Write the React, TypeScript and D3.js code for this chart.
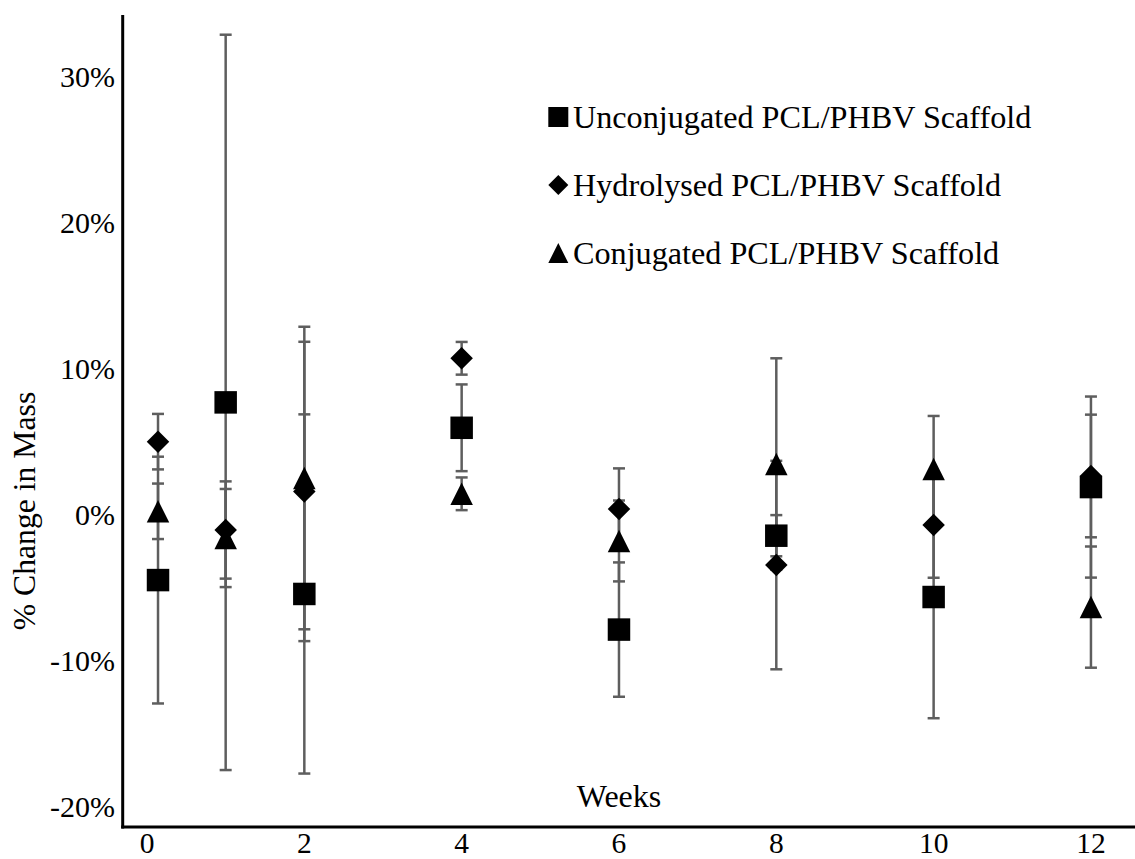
import React from "react";
import * as d3 from "d3";

const weeks = [0.14, 1, 2, 4, 6, 8, 10, 12];
const unconjugated = [-4.25, 7.92, -5.2, 6.18, -7.64, -1.21, -5.41, 2.12];
const unconjugatedErr = [8.45, 25.18, 12.3, 2.97, 4.6, 1.41, 8.3, 6.2];
const hydrolysed = [5.23, -0.82, 1.82, 10.94, 0.62, -3.22, -0.48, 2.88];
const hydrolysedErr = [1.9, 3.33, 10.25, 1.12, 2.78, 7.14, 3.61, 4.2];
const conjugated = [0.46, -1.37, 2.74, 1.66, -1.57, 3.7, 3.35, -6.1];
const conjugatedErr = [1.9, 3.36, 10.36, 1.12, 2.77, 7.24, 3.64, 4.15];

const xTicks = [0, 2, 4, 6, 8, 10, 12];
const yTicks = [-20, -10, 0, 10, 20, 30];

const seriesNames = [
  "Unconjugated PCL/PHBV Scaffold",
  "Hydrolysed PCL/PHBV Scaffold",
  "Conjugated PCL/PHBV Scaffold",
];

const W = 1135;
const H = 859;
const FONT = "Liberation Serif, Times New Roman, serif";

function markerPath(kind: string, size: number) {
  const h = size / 2;
  if (kind === "square") return `M${-h},${-h}H${h}V${h}H${-h}Z`;
  if (kind === "diamond") return `M0,${-h}L${h},0L0,${h}L${-h},0Z`;
  return `M0,${-h}L${h},${h}L${-h},${h}Z`;
}

export default function App() {
  const x = d3.scaleLinear().domain([-0.309, 12.56]).range([122.7, 1135]);
  const y = d3.scaleLinear().domain([-21.16, 34.45]).range([827, 15]);

  const series = [
    { kind: "square", vals: unconjugated, errs: unconjugatedErr },
    { kind: "diamond", vals: hydrolysed, errs: hydrolysedErr },
    { kind: "triangle", vals: conjugated, errs: conjugatedErr },
  ];

  const capW = 12;
  const errColor = "#5e5e5e";
  const ts = { fontFamily: FONT };

  return (
    <svg width={W} height={H} style={{ position: "absolute", left: 0, top: 0, background: "#fff", fontFamily: FONT }}>
      <rect x={0} y={0} width={W} height={H} fill="#fff" />
      {series.map((s, si) => (
        <g key={"e" + si} stroke={errColor} strokeWidth={2.5}>
          {s.vals.map((v, i) => {
            const cx = x(weeks[i]);
            const y1 = y(v + s.errs[i]);
            const y2 = y(v - s.errs[i]);
            return (
              <g key={i}>
                <line x1={cx} x2={cx} y1={y1} y2={y2} />
                <line x1={cx - capW / 2} x2={cx + capW / 2} y1={y1} y2={y1} />
                <line x1={cx - capW / 2} x2={cx + capW / 2} y1={y2} y2={y2} />
              </g>
            );
          })}
        </g>
      ))}
      {series.map((s, si) => (
        <g key={"m" + si} fill="#000">
          {s.vals.map((v, i) => (
            <path key={i} d={markerPath(s.kind, 22.5)}
              transform={`translate(${x(weeks[i])},${y(v)})`} />
          ))}
        </g>
      ))}
      <line x1={122.7} x2={122.7} y1={15} y2={828.5} stroke="#000" strokeWidth={3} />
      <line x1={121.2} x2={1135} y1={827} y2={827} stroke="#000" strokeWidth={3} />
      {yTicks.map((t) => (
        <text key={t} x={115} y={y(t) + 7.3} textAnchor="end" fontSize={30} fill="#000" style={ts}>
          {t}%
        </text>
      ))}
      {xTicks.map((t) => (
        <text key={t} x={x(t)} y={852.5} textAnchor="middle" fontSize={29.5} fill="#000" style={ts}>
          {t}
        </text>
      ))}
      <text x={619} y={807} textAnchor="middle" fontSize={32} fill="#000" style={ts}>Weeks</text>
      <text transform={`translate(35,511) rotate(-90)`} textAnchor="middle" fontSize={31.7} fill="#000" style={ts}>
        % Change in Mass
      </text>
      {series.map((s, si) => {
        const cy = 117 + si * 68;
        return (
          <g key={"l" + si}>
            <path d={markerPath(s.kind, 20)} transform={`translate(558.3,${cy})`} fill="#000" />
            <text x={573} y={cy + 10.5} fontSize={32.2} fill="#000" style={ts}>{seriesNames[si]}</text>
          </g>
        );
      })}
    </svg>
  );
}
